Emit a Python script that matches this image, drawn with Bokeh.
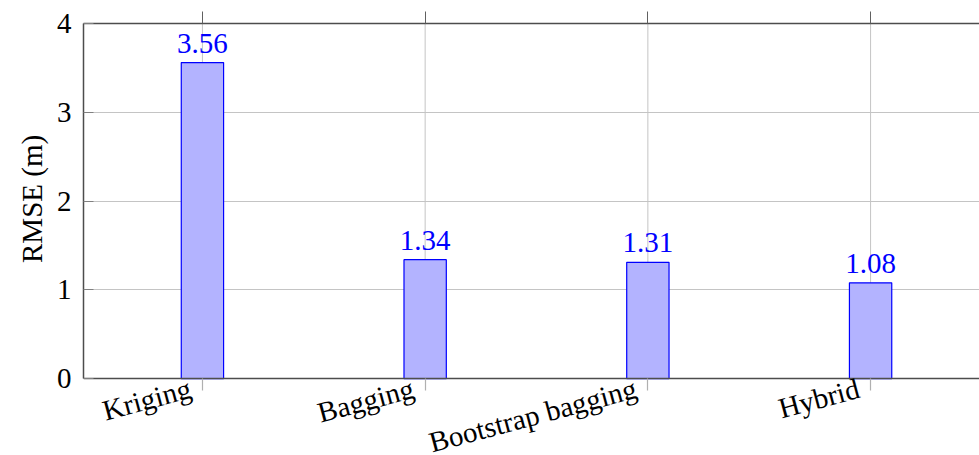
import math
from bokeh.plotting import figure
from bokeh.models import (Range1d, FixedTicker, LinearAxis, ColumnDataSource, Title,
                          LabelSet, CustomLabelingPolicy, CustomJSTickFormatter)
from bokeh.embed import file_html
from bokeh.resources import INLINE

categories = ["Kriging", "Bagging", "Bootstrap bagging", "Hybrid"]
rmse = [3.56, 1.34, 1.31, 1.08]
labels = ["3.56", "1.34", "1.31", "1.08"]
y_ticks = [0, 1, 2, 3, 4]
y_title = "RMSE (m)"

FONT = "Liberation Serif"
FS = "29px"
Y_MIN, Y_MAX = 0, 4
idx = list(range(len(categories)))
src = ColumnDataSource(dict(x=idx, top=rmse, lab=labels))

# the frame reaches the bottom of the page; the area under y=0 holds the
# (in-frame) category axis and its rotated labels
BOX_H, BELOW_H = 356, 77
px_per_unit = BOX_H / (Y_MAX - Y_MIN)
p = figure(width=979, height=455, output_backend="svg", toolbar_location=None,
           x_range=Range1d(-0.534, 3.489),
           y_range=Range1d(Y_MIN - BELOW_H / px_per_unit, Y_MAX),
           x_axis_location=None,
           min_border_left=83, min_border_right=0, min_border_top=22, min_border_bottom=0)
p.outline_line_color = None
p.background_fill_color = "white"
p.border_fill_color = "white"

# vertical grid lines at the categories, inside the axis box
p.segment(x0=idx, y0=[Y_MIN] * len(idx), x1=idx, y1=[Y_MAX] * len(idx),
          line_color="#c4c4c4", line_width=1)
p.xgrid.visible = False

p.vbar(x="x", top="top", bottom=0, width=0.19, source=src,
       fill_color="#b3b3ff", line_color="#0000ff", line_width=1.2)

p.add_layout(LabelSet(x="x", y="top", text="lab", source=src, text_align="center",
                      text_baseline="alphabetic", y_offset=10, text_color="#0000ff",
                      text_font=FONT, text_font_size=FS))

# category axis fixed at y = 0: gray outward ticks (minor) at the categories,
# rotated labels (major) ending just left of each tick
label_shift = 0.054
xa = LinearAxis(fixed_location=0,
                ticker=FixedTicker(ticks=[i - label_shift for i in idx], minor_ticks=idx),
                formatter=CustomJSTickFormatter(args=dict(cats=categories),
                                                code="return cats[index]"))
xa.major_label_orientation = math.radians(15)
xa.major_label_text_font = FONT
xa.major_label_text_font_size = FS
xa.major_label_text_color = "black"
xa.major_label_standoff = -3
xa.major_tick_in = 0
xa.major_tick_out = 0
xa.minor_tick_in = 0
xa.minor_tick_out = 12
xa.minor_tick_line_color = "#b0b0b0"
xa.minor_tick_line_width = 1.2
xa.axis_line_color = "#4d4d4d"
xa.axis_line_width = 1.5
p.add_layout(xa, "below")

ya = p.yaxis[0]
ya.bounds = (Y_MIN, Y_MAX)
ya.ticker = FixedTicker(ticks=y_ticks)
ya.major_label_text_font = FONT
ya.major_label_text_font_size = FS
ya.major_label_text_color = "black"
ya.major_tick_in = 10
ya.major_tick_out = 0
ya.major_tick_line_color = "#808080"
ya.minor_tick_line_color = None
ya.axis_line_color = "#4d4d4d"
ya.axis_line_width = 1.5
ya.major_label_standoff = 12

# y title centred on the axis box (not on the taller frame):
# starts from the frame bottom, shifted up past the label area and half the box
TITLE_LEN = 125  # approximate drawn length of the title text
p.add_layout(Title(text=y_title, align="left",
                   offset=BELOW_H + BOX_H / 2 - TITLE_LEN / 2,
                   text_font=FONT, text_font_size=FS, text_font_style="normal",
                   text_color="black", standoff=12), "left")

top = LinearAxis(ticker=FixedTicker(ticks=idx),
                 major_label_policy=CustomLabelingPolicy(code="return new Set()"),
                 major_label_standoff=0, axis_label_standoff=0,
                 major_tick_in=0, major_tick_out=12, major_tick_line_color="#606060",
                 minor_tick_line_color=None, axis_line_color="#4d4d4d", axis_line_width=1.5)
p.add_layout(top, "above")

p.ygrid.ticker = FixedTicker(ticks=y_ticks)
p.ygrid.grid_line_color = "#c4c4c4"
p.ygrid.grid_line_width = 1

open("out.html", "w").write(file_html(p, INLINE))
